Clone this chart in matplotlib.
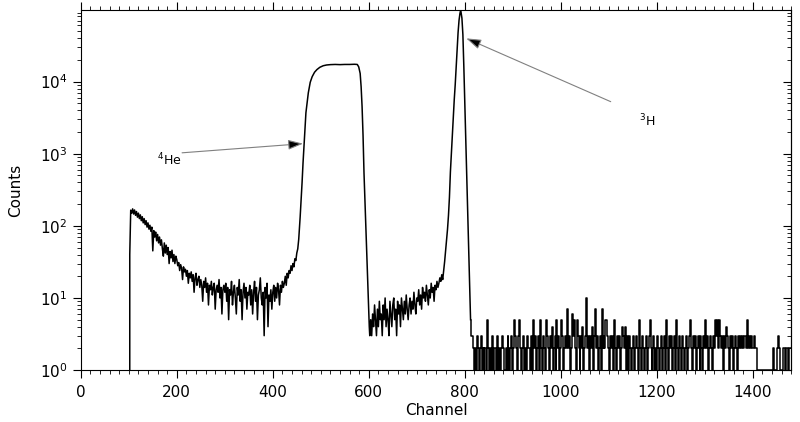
import numpy as np
import matplotlib.pyplot as plt
from matplotlib.ticker import MultipleLocator, LogLocator, NullFormatter

# low energy background, channels 100..434 every 2 channels
bg_start = 100
bg_counts = [0, 40, 165, 150, 172, 146, 166, 140, 158, 132, 150, 126, 142, 118, 134, 110, 126, 104, 118, 96, 110, 90, 102, 84, 96,
             45, 86, 70, 82, 62, 76, 58, 70, 54, 64, 48, 38, 58, 42, 54, 40, 50, 30, 44, 36, 46, 32, 40, 30, 38,
             34, 28, 31, 24, 29, 26, 18, 27, 23, 25, 20, 24, 16, 22, 19, 23, 17, 21, 12, 19, 22, 15, 18, 20, 14,
             18, 15, 9, 17, 14, 19, 12, 16, 8, 15, 13, 17, 11, 14, 16, 7, 13, 15, 12, 18, 10, 14, 6, 13, 15,
             12, 16, 9, 14, 5, 13, 11, 17, 8, 12, 15, 10, 6, 14, 11, 18, 9, 13, 5, 12, 16, 10, 14, 7, 12,
             11, 15, 8, 13, 6, 12, 17, 9, 14, 5, 11, 13, 19, 10, 8, 12, 3, 14, 10, 16, 4, 11, 9, 13, 7,
             12, 15, 9, 14, 10, 16, 13, 8, 15, 12, 17, 14, 16, 20, 15, 22, 19, 24]

# 4He edge and plateau
he_channels = [436, 438, 440, 442, 444, 446, 448, 450, 452, 454, 457, 459, 461, 463, 465, 467, 469,
               472, 474, 478, 482, 487, 492, 498, 505, 512, 520, 530, 540, 550, 560, 570,
               576, 579, 582, 584, 586, 588, 590, 592, 594, 596, 598, 599, 601]
he_counts = [22, 28, 24, 30, 27, 35, 33, 42, 48, 65, 133, 230, 400, 750, 1300, 2200, 3700,
             5500, 7000, 9800, 11700, 13500, 14700, 15800, 16600, 17000, 17200, 17300, 17200, 17300, 17300, 17400,
             17300, 16000, 13000, 8500, 4500, 1800, 540, 220, 90, 40, 16, 10, 4]

# valley between the peaks, channels 602..756 every 2
valley_start = 602
valley_counts = [3, 5, 3, 6, 4, 8, 5, 3, 7, 4, 9, 5, 6, 3, 8, 5, 10, 4, 7, 5, 3, 9, 6, 4, 8,
                 10, 5, 7, 3, 9, 6, 8, 4, 10, 7, 5, 9, 6, 11, 7, 5, 8, 10, 6, 9, 7, 12, 8, 6, 10,
                 9, 13, 8, 11, 7, 14, 10, 12, 9, 15, 11, 8, 13, 10, 16, 12, 14, 9, 15, 13, 17, 14, 16, 19, 17,
                 21, 18, 24]

# 3H peak
h3_channels = [758, 760, 762, 764, 766, 768, 770, 772, 774, 776, 778, 780, 782, 784, 786, 788, 790,
               791, 792, 794, 796, 798, 800, 802, 804, 806, 808, 810, 812]
h3_counts = [32, 45, 63, 90, 140, 250, 560, 1000, 1800, 3200, 5600, 9000, 16000, 28000, 48000, 71000, 89000,
             95000, 93000, 76000, 45000, 16000, 5000, 1600, 500, 160, 50, 16, 5]

# high channel tail, channels 814..1480 every 2
tail_start = 814
tail_counts = [3, 3, 2, 1, 2, 1, 3, 2, 1, 2, 3, 1, 2, 1, 2, 2, 1, 5, 2, 1,
               2, 1, 3, 1, 2, 2, 1, 3, 1, 2, 1, 2, 3, 2, 1, 1, 2, 1, 3, 2,
               1, 2, 3, 1, 2, 5, 3, 2, 1, 3, 5, 2, 1, 2, 3, 1, 2, 1, 3, 2,
               2, 1, 3, 2, 1, 5, 2, 3, 1, 2, 3, 1, 5, 2, 1, 3, 2, 1, 5, 3,
               2, 1, 3, 2, 4, 1, 2, 3, 1, 5, 2, 3, 1, 2, 5, 3, 1, 2, 3, 2,
               7, 2, 3, 1, 2, 6, 3, 5, 2, 1, 5, 3, 2, 1, 3, 2, 4, 1, 2, 3,
               10, 2, 3, 1, 3, 2, 4, 1, 3, 7, 2, 3, 1, 2, 3, 1, 7, 2, 3, 2,
               5, 5, 3, 2, 1, 3, 2, 3, 1, 5, 2, 1, 3, 2, 3, 1, 2, 4, 3, 2,
               4, 1, 3, 2, 1, 3, 2, 1, 2, 3, 1, 2, 3, 2, 1, 5, 2, 1, 3, 2,
               1, 2, 3, 1, 2, 3, 5, 2, 1, 2, 3, 1, 2, 1, 3, 2, 1, 2, 3, 1,
               2, 3, 1, 5, 2, 1, 3, 2, 3, 1, 2, 3, 1, 2, 5, 2, 1, 3, 2, 1,
               3, 2, 1, 2, 3, 1, 2, 3, 5, 2, 1, 3, 2, 3, 1, 2, 3, 2, 1, 3,
               2, 1, 3, 2, 5, 2, 3, 1, 2, 3, 2, 1, 3, 2, 5, 3, 5, 2, 5, 3,
               2, 3, 1, 2, 3, 2, 4, 3, 2, 1, 3, 2, 3, 1, 2, 3, 2, 1, 3, 2,
               3, 2, 3, 2, 3, 3, 2, 5, 3, 2, 3, 2, 3, 2, 2, 3, 2, 2,
               1, 1, 1, 1, 1, 1, 1, 1, 1, 1, 1, 1, 1, 1, 1, 1,
               1, 2, 1, 1, 1, 2, 3, 2, 1, 1, 1, 2, 2, 1, 2, 2, 1, 2, 2, 2]

channel = np.concatenate([
    np.arange(bg_start, bg_start + 2 * len(bg_counts), 2),
    he_channels,
    np.arange(valley_start, valley_start + 2 * len(valley_counts), 2),
    h3_channels,
])
counts = np.concatenate([bg_counts, he_counts, valley_counts, h3_counts]).astype(float)
tail_channel = np.concatenate([[h3_channels[-1]], np.arange(tail_start, tail_start + 2 * len(tail_counts), 2)])
tail = np.concatenate([[h3_counts[-1]], tail_counts]).astype(float)

fig = plt.figure(figsize=(8, 4.22), dpi=100)
ax = fig.add_axes([0.101, 0.123, 0.888, 0.853])
ax.set_yscale('log')
ax.plot(channel, counts, color='k', lw=1.1)
ax.plot(tail_channel, tail, color='k', lw=1.1, drawstyle='steps-mid')

ax.set_xlim(0, 1480)
ax.set_ylim(1, 9.8e4)
ax.xaxis.set_major_locator(MultipleLocator(200))
ax.xaxis.set_minor_locator(MultipleLocator(20))
ax.yaxis.set_major_locator(LogLocator(base=10, numticks=10))
ax.yaxis.set_minor_locator(LogLocator(base=10, subs=np.arange(2, 10), numticks=10))
ax.yaxis.set_minor_formatter(NullFormatter())

ax.tick_params(axis='x', which='both', top=True, direction='out', labelsize=11, pad=5)
ax.tick_params(axis='y', which='both', left=True, right=False, direction='out', labelsize=11)
ax.tick_params(which='major', length=6, width=0.8)
ax.tick_params(which='minor', length=3, width=0.6)

# right side ticks point inward
sec = ax.secondary_yaxis('right', functions=(lambda v: v, lambda v: v))
sec.set_yscale('log')
sec.yaxis.set_major_locator(LogLocator(base=10, numticks=10))
sec.yaxis.set_minor_locator(LogLocator(base=10, subs=np.arange(2, 10), numticks=10))
sec.tick_params(which='both', direction='in', labelright=False)
sec.tick_params(which='major', length=6, width=0.8)
sec.tick_params(which='minor', length=3, width=0.6)

ax.set_xlabel('Channel', fontsize=11, labelpad=2)
ax.set_ylabel('Counts', fontsize=11, labelpad=12)

arrow = dict(arrowstyle='-|>,head_length=0.9,head_width=0.3', ec='0.5', fc='k', lw=0.8,
             shrinkA=0, shrinkB=0)
ax.annotate('', xy=(463, 1380), xytext=(211, 1030), arrowprops=arrow)
ax.annotate('', xy=(803, 39800), xytext=(1104, 5270), arrowprops=arrow)
ax.text(159, 700, r'$^{4}$He', fontsize=9)
ax.text(1162, 2370, r'$^{3}$H', fontsize=9)

fig.savefig('out.png', dpi=100)
